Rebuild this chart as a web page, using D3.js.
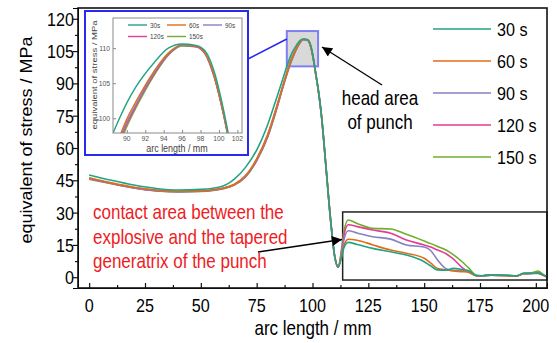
<!DOCTYPE html>
<html>
<head>
<meta charset="utf-8">
<script src="https://cdn.jsdelivr.net/npm/d3@7"></script>
<style>
  body { margin: 0; background: #fff; }
  svg { font-family: "Liberation Sans", Arial, sans-serif; }
</style>
</head>
<body>
<svg id="chart" width="557" height="343"></svg>
<script>
// arc length positions shared by every series (mm)
const arcX = [0, 10, 20, 30, 40, 50, 60, 65, 70, 75,
  80, 84, 87, 89, 90, 91, 93, 94.5, 96, 97.5,
  98.5, 99.5, 100.5, 101.5, 102.5, 104, 106, 108, 110, 111.5,
  113, 114, 116, 120, 127, 135, 142, 150, 153, 156,
  160, 163, 167, 170, 173.5, 176, 180, 187, 191.5, 194.5,
  198, 201, 203, 205];

// equivalent stress (MPa)
const s30 = [47.5, 45.0, 42.8, 41.2, 40.5, 40.8, 42.4, 45.5, 51.0, 59.0,
  71.0, 83.5, 93.0, 99.4, 102.2, 104.5, 108.0, 110.0, 110.6, 110.4,
  109.6, 106.6, 101.2, 94.5, 88.0, 75.5, 52.0, 28.0, 9.5, 4.8,
  9.0, 13.5, 16.2, 15.2, 13.4, 11.8, 10.3, 7.2, 5.2, 3.4,
  3.3, 4.1, 3.6, 3.0, 0.8, 0.7, 1.0, 0.9, 0.6, 1.8,
  1.8, 1.9, 1.2, 0.2];
const s60 = [46.2, 43.8, 41.8, 40.5, 39.9, 40.1, 41.4, 43.2, 47.2, 55.0,
  66.5, 79.5, 90.0, 96.7, 99.9, 102.4, 106.8, 109.3, 110.5, 110.3,
  109.3, 106.0, 100.7, 94.1, 87.6, 75.2, 51.7, 27.7, 9.4, 4.8,
  10.0, 14.5, 17.6, 17.2, 15.0, 12.6, 11.1, 8.8, 6.5, 4.1,
  3.4, 2.9, 2.6, 2.2, 0.6, 0.7, 1.0, 0.6, 0.6, 1.6,
  1.8, 1.8, 1.0, 0.1];
const s90 = [45.9, 43.6, 41.6, 40.3, 39.8, 40.0, 41.3, 43.0, 46.9, 54.6,
  66.0, 79.0, 89.6, 96.3, 99.5, 102.0, 106.6, 109.2, 110.4, 110.3,
  109.2, 105.9, 100.6, 94.0, 87.5, 75.1, 51.6, 27.6, 9.3, 4.7,
  11.0, 17.0, 21.6, 20.5, 18.8, 17.7, 15.0, 14.0, 12.3, 8.0,
  3.8, 3.2, 3.0, 2.6, 0.7, 0.7, 1.0, 0.8, 0.6, 1.6,
  1.8, 1.9, 1.0, 0.1];
const s120 = [45.7, 43.5, 41.5, 40.2, 39.7, 39.9, 41.2, 42.9, 46.7, 54.3,
  65.6, 78.6, 89.3, 96.0, 99.2, 101.8, 106.4, 109.1, 110.4, 110.2,
  109.2, 105.8, 100.5, 93.9, 87.4, 75.0, 51.5, 27.5, 9.3, 4.7,
  12.0, 19.0, 24.4, 23.5, 21.9, 20.4, 17.3, 15.0, 14.0, 12.6,
  10.8, 8.5, 4.5, 2.5, 0.7, 0.6, 1.0, 0.8, 0.6, 1.7,
  1.8, 2.2, 1.2, 0.1];
const s150 = [45.5, 43.4, 41.4, 40.1, 39.6, 39.8, 41.1, 42.8, 46.5, 54.0,
  65.2, 78.2, 89.0, 95.6, 98.8, 101.5, 106.2, 109.0, 110.3, 110.2,
  109.2, 105.8, 100.5, 93.9, 87.4, 75.0, 51.5, 27.5, 9.3, 4.7,
  13.0, 21.0, 26.6, 25.0, 22.7, 22.4, 19.9, 16.8, 15.6, 14.3,
  12.5, 10.5, 7.2, 4.2, 0.9, 0.7, 1.1, 0.9, 0.7, 1.8,
  2.0, 2.9, 1.6, 0.0];

const seriesNames = ["30 s", "60 s", "90 s", "120 s", "150 s"];
const insetNames = ["30s", "60s", "90s", "120s", "150s"];
const colors = ["#22a383", "#e06c1a", "#8681c2", "#e23d93", "#6fae2b"];

const xTicks = [0, 25, 50, 75, 100, 125, 150, 175, 200];
const yTicks = [0, 15, 30, 45, 60, 75, 90, 105, 120];
const insetXTicks = [90, 92, 94, 96, 98, 100, 102];
const insetYTicks = [100, 105, 110];

// zoom window of the inset and the boxed tail region
const zoomX = [88.5, 102.5], zoomY = [97.9, 114.3];
const tailX = [113.5, 205], tailY = [-1.3, 30.3];

const allSeries = [s30, s60, s90, s120, s150].map(v => arcX.map((a, i) => [a, v[i]]));

const svg = d3.select("#chart");
const SX = 0.85; // glyphs in the figure are horizontally narrow

function txt(g, s, x, y, size, anchor, fill) {
  return g.append("text")
    .attr("transform", `translate(${x},${y}) scale(${SX},1)`)
    .attr("font-size", size)
    .attr("text-anchor", anchor || "start")
    .attr("fill", fill || "#000")
    .text(s);
}

// ---------- main plot ----------
const x = d3.scaleLinear().domain([-5, 205]).range([78, 547]);
const y = d3.scaleLinear().domain([-5, 125]).range([288, 8]);

const defs = svg.append("defs");
defs.append("clipPath").attr("id", "clipMain")
  .append("rect").attr("x", 78).attr("y", 8).attr("width", 469).attr("height", 280);
defs.append("marker").attr("id", "arrow").attr("viewBox", "0 0 10 10")
  .attr("refX", 10).attr("refY", 5).attr("markerWidth", 14).attr("markerHeight", 10)
  .attr("markerUnits", "userSpaceOnUse").attr("orient", "auto")
  .append("path").attr("d", "M0,0L10,5L0,10Z").attr("fill", "#000");

// gray highlight of the head area
svg.append("rect")
  .attr("x", x(zoomX[0])).attr("y", y(zoomY[1]))
  .attr("width", x(zoomX[1]) - x(zoomX[0])).attr("height", y(zoomY[0]) - y(zoomY[1]))
  .attr("fill", "#d9d9d9").attr("stroke", "#7f7ff5").attr("stroke-width", 2);

// box around the contact area
svg.append("rect")
  .attr("x", x(tailX[0])).attr("y", y(tailY[1]))
  .attr("width", x(tailX[1]) - x(tailX[0])).attr("height", y(tailY[0]) - y(tailY[1]))
  .attr("fill", "none").attr("stroke", "#222").attr("stroke-width", 1.5);

const line = d3.line().x(d => x(d[0])).y(d => y(d[1])).curve(d3.curveMonotoneX);
const main = svg.append("g").attr("clip-path", "url(#clipMain)");
main.selectAll("path.curve")
  .data(allSeries.slice().reverse())
  .enter().append("path")
  .attr("class", "curve")
  .attr("d", line)
  .attr("fill", "none")
  .attr("stroke", (d, i) => colors[4 - i])
  .attr("stroke-width", 1.6);

// axes
svg.append("g").attr("transform", "translate(0,288)")
  .call(d3.axisBottom(x).tickValues(xTicks).tickSize(-5).tickFormat(""));
svg.append("g").attr("transform", "translate(0,288)")
  .call(d3.axisBottom(x).tickValues(xTicks.slice(0, -1).map(v => v + 12.5)).tickSize(-3).tickFormat(""))
  .select(".domain").remove();
svg.append("g").attr("transform", "translate(78,0)")
  .call(d3.axisLeft(y).tickValues(yTicks).tickSize(5).tickFormat(""));
svg.append("g").attr("transform", "translate(78,0)")
  .call(d3.axisLeft(y).tickValues(yTicks.slice(0, -1).map(v => v + 7.5)).tickSize(3).tickFormat(""))
  .select(".domain").remove();
svg.selectAll(".tick line").attr("stroke", "#111").attr("stroke-width", 1.2);

svg.append("rect").attr("x", 78).attr("y", 8).attr("width", 469).attr("height", 280)
  .attr("fill", "none").attr("stroke", "#111").attr("stroke-width", 1.6);

xTicks.forEach(v => txt(svg, v, x(v), 312, 19, "middle"));
yTicks.forEach(v => txt(svg, v, 74, y(v) + 7, 19, "end"));

txt(svg, "arc length / mm", 313, 335, 20, "middle");
svg.append("text")
  .attr("transform", "translate(32,140) scale(0.9,1) rotate(-90)")
  .attr("font-size", 18).attr("text-anchor", "middle")
  .text("equivalent of stress / MPa");

// legend
seriesNames.forEach((n, i) => {
  const ly = 29 + i * 32;
  svg.append("line").attr("x1", 433).attr("x2", 491).attr("y1", ly).attr("y2", ly)
    .attr("stroke", colors[i]).attr("stroke-width", 1.6);
  txt(svg, n, 497, ly + 7, 19, "start");
});

// annotations
svg.append("line").attr("x1", 382).attr("y1", 85).attr("x2", 322).attr("y2", 47)
  .attr("stroke", "#000").attr("stroke-width", 1.3).attr("marker-end", "url(#arrow)");
txt(svg, "head area", 380, 105, 20, "middle");
txt(svg, "of punch", 380, 129, 20, "middle");

const red = "#ee1c24";
txt(svg, "contact area between the", 93, 219, 20, "start", red);
txt(svg, "explosive and the tapered", 93, 244, 20, "start", red);
txt(svg, "generatrix of the punch", 93, 268, 20, "start", red);
svg.append("line").attr("x1", 258).attr("y1", 252).attr("x2", 342).attr("y2", 239.5)
  .attr("stroke", "#000").attr("stroke-width", 1.3).attr("marker-end", "url(#arrow)");

// ---------- inset ----------
svg.append("line").attr("x1", 248).attr("y1", 59).attr("x2", x(zoomX[0])).attr("y2", 39)
  .attr("stroke", "#2a2aee").attr("stroke-width", 1.6);
svg.append("rect").attr("x", 85).attr("y", 11).attr("width", 163).attr("height", 144)
  .attr("fill", "#fff").attr("stroke", "#2a2aee").attr("stroke-width", 2);

const ix = d3.scaleLinear().domain(zoomX).range([113, 242]);
const iy = d3.scaleLinear().domain(zoomY).range([133, 18]);
defs.append("clipPath").attr("id", "clipInset")
  .append("rect").attr("x", 113).attr("y", 18).attr("width", 129).attr("height", 115);

const ig = svg.append("g");
const iline = d3.line().x(d => ix(d[0])).y(d => iy(d[1])).curve(d3.curveMonotoneX);
ig.append("g").attr("clip-path", "url(#clipInset)")
  .selectAll("path")
  .data(allSeries.slice().reverse())
  .enter().append("path")
  .attr("d", iline)
  .attr("fill", "none")
  .attr("stroke", (d, i) => colors[4 - i])
  .attr("stroke-width", 1.4);

ig.append("g").attr("transform", "translate(0,133)")
  .call(d3.axisBottom(ix).tickValues(insetXTicks).tickSize(-3).tickFormat(""));
ig.append("g").attr("transform", "translate(113,0)")
  .call(d3.axisLeft(iy).tickValues(insetYTicks).tickSize(-3).tickFormat(""));
ig.selectAll(".tick line").attr("stroke", "#888");
ig.selectAll(".domain").remove();
ig.append("rect").attr("x", 113).attr("y", 18).attr("width", 129).attr("height", 115)
  .attr("fill", "none").attr("stroke", "#8a8a8a").attr("stroke-width", 1);

insetXTicks.forEach(v => txt(ig, v, ix(v), 141, 8, "middle", "#555"));
insetYTicks.forEach(v => txt(ig, v, 110, iy(v) + 3, 8, "end", "#555"));
txt(ig, "arc length / mm", 177, 152, 10.5, "middle", "#444");
ig.append("text")
  .attr("transform", "translate(97,75) scale(0.85,1) rotate(-90)")
  .attr("font-size", 9.5).attr("text-anchor", "middle").attr("fill", "#444")
  .text("equivalent of stress / MPa");

const insetLegendPos = [[128, 25], [167, 25], [203, 25], [128, 36.5], [167, 36.5]];
insetNames.forEach((n, i) => {
  const [lx, ly] = insetLegendPos[i];
  ig.append("line").attr("x1", lx).attr("x2", lx + 19).attr("y1", ly).attr("y2", ly)
    .attr("stroke", colors[i]).attr("stroke-width", 1.4);
  txt(ig, n, lx + 22, ly + 2.7, 7.5, "start", "#444");
});
</script>
</body>
</html>
